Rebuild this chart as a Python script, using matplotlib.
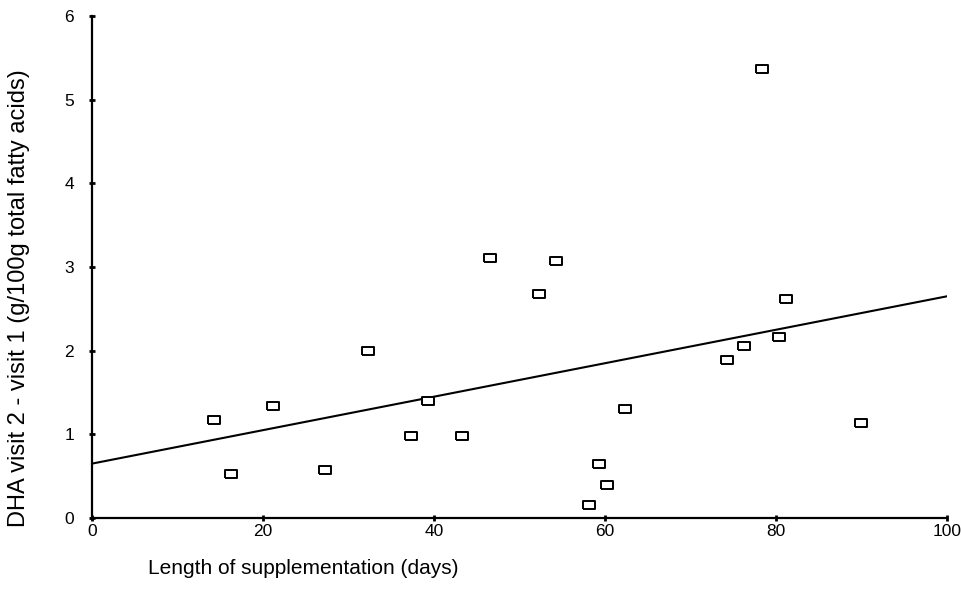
import matplotlib
matplotlib.use('Agg')
import matplotlib.pyplot as plt

# days of supplementation vs change in DHA
days = [14.3, 16.2, 21.2, 27.2, 32.3, 37.3, 39.3, 43.3, 46.5, 52.3, 54.3,
        58.1, 59.3, 60.2, 62.3, 74.3, 76.2, 78.4, 80.3, 81.2, 90.0]
dha_change = [1.17, 0.52, 1.34, 0.57, 2.00, 0.98, 1.40, 0.98, 3.11, 2.68, 3.07,
              0.15, 0.65, 0.39, 1.30, 1.89, 2.05, 5.37, 2.16, 2.62, 1.13]

# fitted line, end points
fit_x = [0, 100]
fit_y = [0.65, 2.65]

x_ticks = [0, 20, 40, 60, 80, 100]
y_ticks = [0, 1, 2, 3, 4, 5, 6]

plt.rcParams['font.family'] = ['Liberation Sans', 'DejaVu Sans']

fig = plt.figure(figsize=(9.62, 6.09), dpi=100)
ax = fig.add_axes([92 / 962, 1 - 518 / 609, 855 / 962, 502 / 609])

ax.plot(fit_x, fit_y, color='black', lw=1.5, zorder=2)
box = [(-1.3, -1), (1.3, -1), (1.3, 1), (-1.3, 1), (-1.3, -1)]
ax.plot(days, dha_change, ls='none', marker=box, ms=8, mfc='white',
        mec='black', mew=1.4, zorder=3)

ax.set_xlim(0, 100)
ax.set_ylim(0, 6)
ax.set_xticks(x_ticks)
ax.set_yticks(y_ticks)
for s in ['top', 'right']:
    ax.spines[s].set_visible(False)
for s in ['left', 'bottom']:
    ax.spines[s].set_linewidth(1.6)
ax.tick_params(direction='inout', length=4, width=2, labelsize=12.5)
ax.tick_params(axis='y', pad=11)
ax.tick_params(axis='x', pad=2)

fig.text(148 / 962, 1 - 568 / 609, 'Length of supplementation (days)',
         fontsize=15, ha='left', va='center')
fig.text(19 / 962, 1 - 298 / 609, 'DHA visit 2 - visit 1 (g/100g total fatty acids)',
         fontsize=17, rotation=90, ha='center', va='center')

fig.savefig('out.png', dpi=100)
